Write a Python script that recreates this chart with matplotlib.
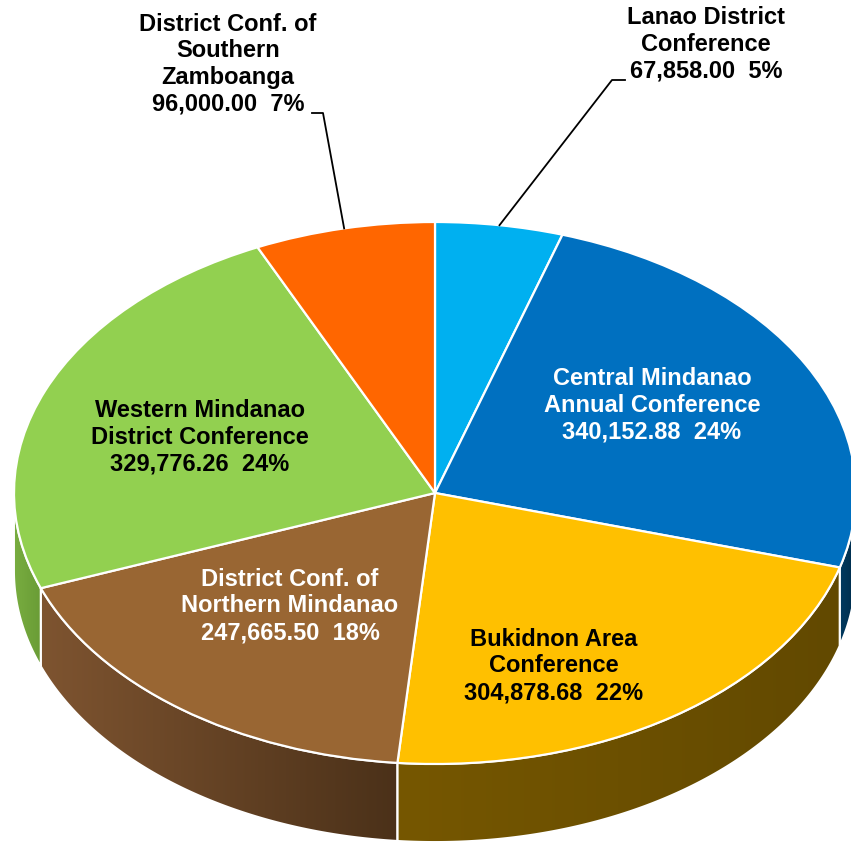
import numpy as np
import matplotlib
matplotlib.use("Agg")
import matplotlib.pyplot as plt
from matplotlib.patches import Polygon
from matplotlib.colors import LinearSegmentedColormap

# ---- data ----
categories = ["Lanao District\nConference",
              "Central Mindanao\nAnnual Conference",
              "Bukidnon Area\nConference",
              "District Conf. of\nNorthern Mindanao",
              "Western Mindanao\nDistrict Conference",
              "District Conf. of\nSouthern\nZamboanga"]
values = [67858.00, 340152.88, 304878.68, 247665.50, 329776.26, 96000.00]
value_labels = ["67,858.00", "340,152.88", "304,878.68", "247,665.50", "329,776.26", "96,000.00"]
pct_labels = ["5%", "24%", "22%", "18%", "24%", "7%"]

# ---- style ----
top_colors = ["#00B0F0", "#0070C0", "#FFC000", "#996633", "#92D050", "#FF6600"]
side_colors = [("#0086b8", "#006d96"), ("#003a60", "#002b48"), ("#765700", "#624900"),
               ("#7e5430", "#4b3119"), ("#78ad40", "#6a9c36"), ("#c04d00", "#a84300")]
text_colors = ["black", "white", "black", "white", "black", "black"]

fig = plt.figure(figsize=(8.51, 8.42), dpi=100)
ax = fig.add_axes([0, 0, 1, 1])
ax.axis("off")

CX, CY, RX, RY = 435.0, 493.0, 421.0, 271.0
depth = 78.0 / RY

wedges, _ = ax.pie(values, colors=top_colors, startangle=90, counterclock=False,
                   radius=1.0, center=(0, 0),
                   wedgeprops=dict(edgecolor="white", linewidth=1.6, zorder=5))

# side walls
for w, (c1, c2) in zip(wedges, side_colors):
    t1, t2 = w.theta1, w.theta2
    for k in range(-2, 2):
        a = max(t1, 180 + 360 * k)
        b = min(t2, 360 + 360 * k)
        if b <= a:
            continue
        ts = np.radians(np.linspace(a, b, 200))
        xs = np.cos(ts)
        ys = np.sin(ts)
        pts = np.concatenate([np.column_stack([xs, ys]),
                              np.column_stack([xs[::-1], ys[::-1] - depth])])
        poly = Polygon(pts, closed=True, facecolor="none", edgecolor="white",
                       linewidth=1.4, zorder=3)
        ax.add_patch(poly)
        x0, x1 = xs.min(), xs.max()
        y0, y1 = ys.min() - depth, ys.max()
        cmap = LinearSegmentedColormap.from_list("g", [c1, c2])
        grad = np.linspace(0, 1, 256).reshape(1, -1)
        im = ax.imshow(grad, extent=[x0, x1, y0, y1], cmap=cmap, aspect="auto",
                       zorder=2, interpolation="bilinear")
        im.set_clip_path(poly)

# label positions (data units of the squashed pie)
def px(x, y):
    return (x - CX) / RX, (CY - y) / RY

label_pos = [px(706, 44), px(652, 405), px(554, 666), px(290, 606), px(200, 437), px(228, 64)]

for i, w in enumerate(wedges):
    txt = f"{categories[i]}\n{value_labels[i]}  {pct_labels[i]}"
    lx, ly = label_pos[i]
    ax.text(lx, ly, txt, ha="center", va="center", fontsize=17, fontweight="bold",
            family="Liberation Sans", color=text_colors[i], linespacing=1.2, zorder=10)

# leader lines
mid = lambda w: np.radians((w.theta1 + w.theta2) / 2)
m0 = mid(wedges[0])
e1 = px(612, 80); e2 = px(625, 80)
ax.plot([np.cos(m0), e1[0], e2[0]], [np.sin(m0), e1[1], e2[1]], color="black", lw=1.3, zorder=9)
m5 = mid(wedges[5])
f1 = px(323, 113); f2 = px(312, 113)
ax.plot([np.cos(m5), f1[0], f2[0]], [np.sin(m5), f1[1], f2[1]], color="black", lw=1.3, zorder=9)

ax.set_aspect("auto")
ax.set_xlim(-CX / RX, (851 - CX) / RX)
ax.set_ylim((CY - 842) / RY, CY / RY)

fig.savefig("out.png", dpi=100)
